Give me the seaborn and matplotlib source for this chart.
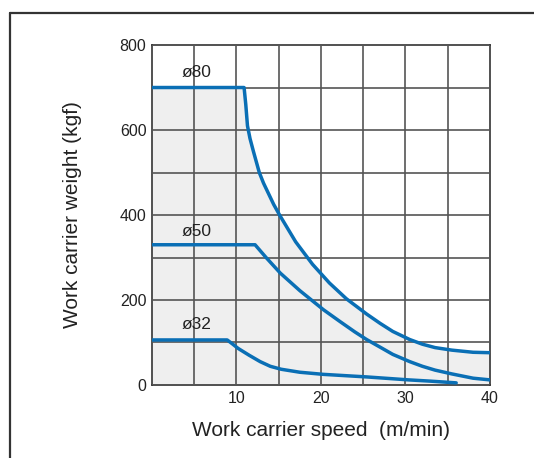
import numpy as np
import pandas as pd
import matplotlib
matplotlib.use('Agg')
import matplotlib.pyplot as plt
import seaborn as sns
from matplotlib.lines import Line2D

# Curvas (velocidade m/min, peso kgf)
speed_80 = [0, 10.9, 11.1, 11.3, 11.6, 12.0, 12.7, 13.2, 13.8, 14.4, 15.1, 17, 19, 21, 23,
            25.4, 27, 28.5, 30.5, 32, 33.5, 35.5, 38, 40]
weight_80 = [700, 700, 660, 610, 580, 550, 500, 475, 450, 425, 400, 337, 284, 240, 203,
             167, 145, 126, 107, 96, 88, 82, 77, 76]

speed_50 = [0, 12.2, 13.5, 15.2, 17.5, 20.3, 22.2, 24, 25.4, 27, 28.5, 30.5, 32, 33.5, 35.5, 38, 40]
weight_50 = [330, 330, 300, 263, 222, 177, 150, 125, 107, 89, 72, 55, 44, 35, 26, 16, 12]

speed_32 = [0, 8.9, 9.5, 10.2, 11.5, 12.8, 14, 15.3, 17.5, 20.3, 25.4, 30.4, 33, 36]
weight_32 = [106, 106, 97, 86, 70, 55, 44, 37, 30, 25, 19, 12, 9, 5]

bore_labels = ['ø80', 'ø50', 'ø32']
label_pos = [(5.3, 735), (5.3, 362), (5.3, 142)]

x_ticks = list(range(0, 41, 5))
x_ticklabels = ['', '', '10', '', '20', '', '30', '', '40']
y_ticks = list(range(0, 801, 100))
y_ticklabels = ['0', '', '200', '', '400', '', '600', '', '800']

sns.set_style('white')
plt.rcParams['font.family'] = ['Liberation Sans', 'DejaVu Sans']

fig = plt.figure(figsize=(5.34, 4.58), dpi=100)
ax = fig.add_axes([0.2846, 0.1594, 0.6330, 0.7423])

blue = '#0a6fb5'
grid_c = '#555555'

# área sombreada abaixo da curva ø80
ax.fill_between(speed_80, weight_80, 0, color='#efefef', zorder=0, lw=0)

for sx, wy in [(speed_80, weight_80), (speed_50, weight_50), (speed_32, weight_32)]:
    df = pd.DataFrame({'speed': sx, 'weight': wy})
    sns.lineplot(data=df, x='speed', y='weight', ax=ax, color=blue, lw=2.5,
                 sort=False, estimator=None, zorder=3)

for lab, (tx, ty) in zip(bore_labels, label_pos):
    ax.text(tx, ty, lab, ha='center', va='center', fontsize=12.5, color='#222222', zorder=4)

ax.set_xlim(0, 40)
ax.set_ylim(0, 800)
ax.set_xticks(x_ticks)
ax.set_xticklabels(x_ticklabels)
ax.set_yticks(y_ticks)
ax.set_yticklabels(y_ticklabels)
ax.tick_params(length=0, labelsize=11.5, colors='#222222')
ax.tick_params(axis='x', pad=4)
ax.tick_params(axis='y', pad=4)
ax.grid(True, color=grid_c, lw=1.2, zorder=1)
ax.set_axisbelow(False)
for sp in ax.spines.values():
    sp.set_color('#333333')
    sp.set_linewidth(1.2)

ax.set_xlabel('Work carrier speed  (m/min)', fontsize=15, color='#222222', labelpad=11)
ax.set_ylabel('Work carrier weight (kgf)', fontsize=15, color='#222222', labelpad=27)

# moldura externa
fig.add_artist(Line2D([0.0187, 0.0187], [0.0, 0.9716], color='#333333', lw=1.6))
fig.add_artist(Line2D([0.0187, 1.0], [0.9716, 0.9716], color='#333333', lw=1.6))

fig.savefig('out.png', dpi=100)
